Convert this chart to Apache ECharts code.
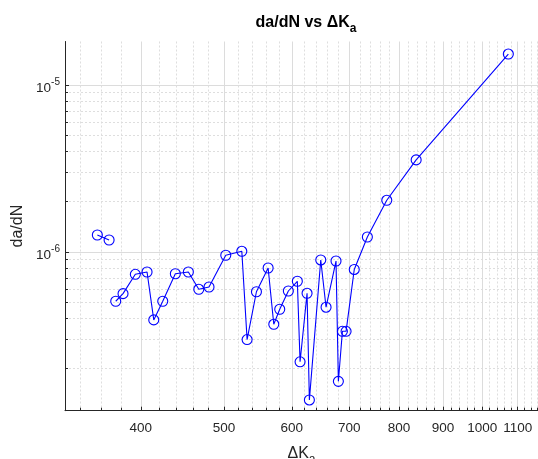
<!DOCTYPE html>
<html>
<head>
<meta charset="utf-8">
<script src="https://cdn.jsdelivr.net/npm/echarts@6/dist/echarts.min.js"></script>
<style>
  html, body { margin: 0; padding: 0; background: #fff; }
  #chart { width: 538px; height: 459px; }
</style>
</head>
<body>
<div id="chart"></div>
<script>
// ΔK_a values (null = gap in the line)
var dK = [356.0, 367.4, null, 374.0, 381.4, 394.2, 406.8, 414.2, 424.3, 438.9, 454.5,
  467.4, 480.4, 502.5, 524.6, 532.1, 545.6, 563.0, 571.6, 580.8, 594.4,
  608.9, 613.4, 625.0, 628.9, 648.4, 657.7, 675.5, 679.8, 687.2, 694.0,
  709.4, 734.8, 774.1, 837.6, 1072.7];
// da/dN values
var dadN = [1.264e-6, 1.180e-6, null, 5.07e-7, 5.63e-7, 7.35e-7, 7.59e-7, 3.92e-7, 5.07e-7, 7.41e-7, 7.59e-7,
  5.98e-7, 6.17e-7, 9.56e-7, 1.010e-6, 2.99e-7, 5.78e-7, 8.02e-7, 3.69e-7, 4.54e-7, 5.84e-7,
  6.68e-7, 2.20e-7, 5.66e-7, 1.30e-7, 8.96e-7, 4.67e-7, 8.83e-7, 1.68e-7, 3.35e-7, 3.35e-7,
  7.86e-7, 1.230e-6, 2.04e-6, 3.56e-6, 1.533e-5];

var xMajor = [400, 500, 600, 700, 800, 900, 1000, 1100];
var xMinor = [340, 360, 380, 420, 440, 460, 480, 520, 540, 560, 580, 620, 640, 660, 680,
  720, 740, 760, 780, 820, 840, 860, 880, 920, 940, 960, 980, 1020, 1040, 1060, 1080,
  1120, 1140, 1160];
var yMajor = [1e-6, 1e-5];
var yMinor = [2e-7, 3e-7, 4e-7, 5e-7, 6e-7, 7e-7, 8e-7, 9e-7,
  2e-6, 3e-6, 4e-6, 5e-6, 6e-6, 7e-6, 8e-6, 9e-6];

var xMin = 326.4, xMax = 1161.6;
var yMin = 1.121e-7, yMax = 1.822e-5;

var font = '"Liberation Sans", Arial, Helvetica, sans-serif';
var axisColor = '#262626';

var chart = echarts.init(document.getElementById('chart'));

var points = dK.map(function (k, i) {
  return dadN[i] === null ? '-' : [k, dadN[i]];
});

var option = {
  animation: false,
  textStyle: { fontFamily: font },
  title: {
    text: '{b|da/dN vs ΔK}{s|a}',
    left: 301,
    textAlign: 'center',
    top: 5,
    textStyle: {
      rich: {
        b: { fontFamily: font, fontSize: 16, fontWeight: 'bold', color: '#000' },
        s: { fontFamily: font, fontSize: 12, fontWeight: 'bold', color: '#000', padding: [13, 0, 0, 0] }
      }
    }
  },
  grid: { left: 65, right: 0, top: 41.5, bottom: 48.3, containLabel: false, outerBoundsMode: 'none' },
  xAxis: [
    {
      type: 'log', position: 'bottom', min: xMin, max: xMax,
      name: '{b|ΔK}{s|a}', nameLocation: 'middle', nameGap: 31,
      nameTextStyle: {
        rich: {
          b: { fontFamily: font, fontSize: 16, color: axisColor },
          s: { fontFamily: font, fontSize: 12, color: axisColor, padding: [12, 0, 0, 0] }
        }
      },
      axisLine: { onZero: false, lineStyle: { color: axisColor, width: 1 } },
      axisTick: { inside: true, length: 4, customValues: xMajor, lineStyle: { color: axisColor } },
      axisLabel: {
        customValues: xMajor, color: axisColor, fontSize: 13.5, margin: 11,
        formatter: function (v) { return String(Math.round(v)); }
      },
      splitLine: { show: true, lineStyle: { color: '#dcdcdc', width: 1 } }
    },
    {
      type: 'log', position: 'bottom', min: xMin, max: xMax,
      axisLine: { show: false },
      axisTick: { inside: true, length: 3, customValues: xMinor, lineStyle: { color: axisColor } },
      axisLabel: { show: false },
      splitLine: { show: true, lineStyle: { color: '#dedede', width: 1, type: [2, 2] } }
    }
  ],
  yAxis: [
    {
      type: 'log', position: 'left', min: yMin, max: yMax,
      name: 'da/dN', nameLocation: 'middle', nameGap: 38,
      nameTextStyle: { fontFamily: font, fontSize: 16, color: axisColor },
      axisLine: { lineStyle: { color: axisColor, width: 1 } },
      axisTick: { inside: true, length: 4, customValues: yMajor, lineStyle: { color: axisColor } },
      axisLabel: {
        customValues: yMajor, margin: 5,
        formatter: function (v) {
          return '{b|10}{sup|' + Math.round(Math.log10(v)) + '}';
        },
        rich: {
          b: { fontFamily: font, fontSize: 13.5, color: axisColor, padding: [6, 0, 0, 0] },
          sup: { fontFamily: font, fontSize: 10, color: axisColor, padding: [0, 0, 6, 0] }
        }
      },
      splitLine: { show: true, lineStyle: { color: '#dcdcdc', width: 1 } }
    },
    {
      type: 'log', position: 'left', min: yMin, max: yMax,
      axisLine: { show: false },
      axisTick: { inside: true, length: 3, customValues: yMinor, lineStyle: { color: axisColor } },
      axisLabel: { show: false },
      splitLine: { show: true, lineStyle: { color: '#dedede', width: 1, type: [2, 2] } }
    }
  ],
  series: [
    {
      type: 'line',
      xAxisIndex: 0,
      yAxisIndex: 0,
      data: points,
      connectNulls: false,
      symbol: 'circle',
      symbolSize: 10,
      showAllSymbol: true,
      lineStyle: { color: '#0000ff', width: 1.1 },
      itemStyle: { color: 'rgba(0,0,0,0)', borderColor: '#0000ff', borderWidth: 1.1 },
      z: 5
    }
  ]
};

chart.setOption(option);
</script>
</body>
</html>
